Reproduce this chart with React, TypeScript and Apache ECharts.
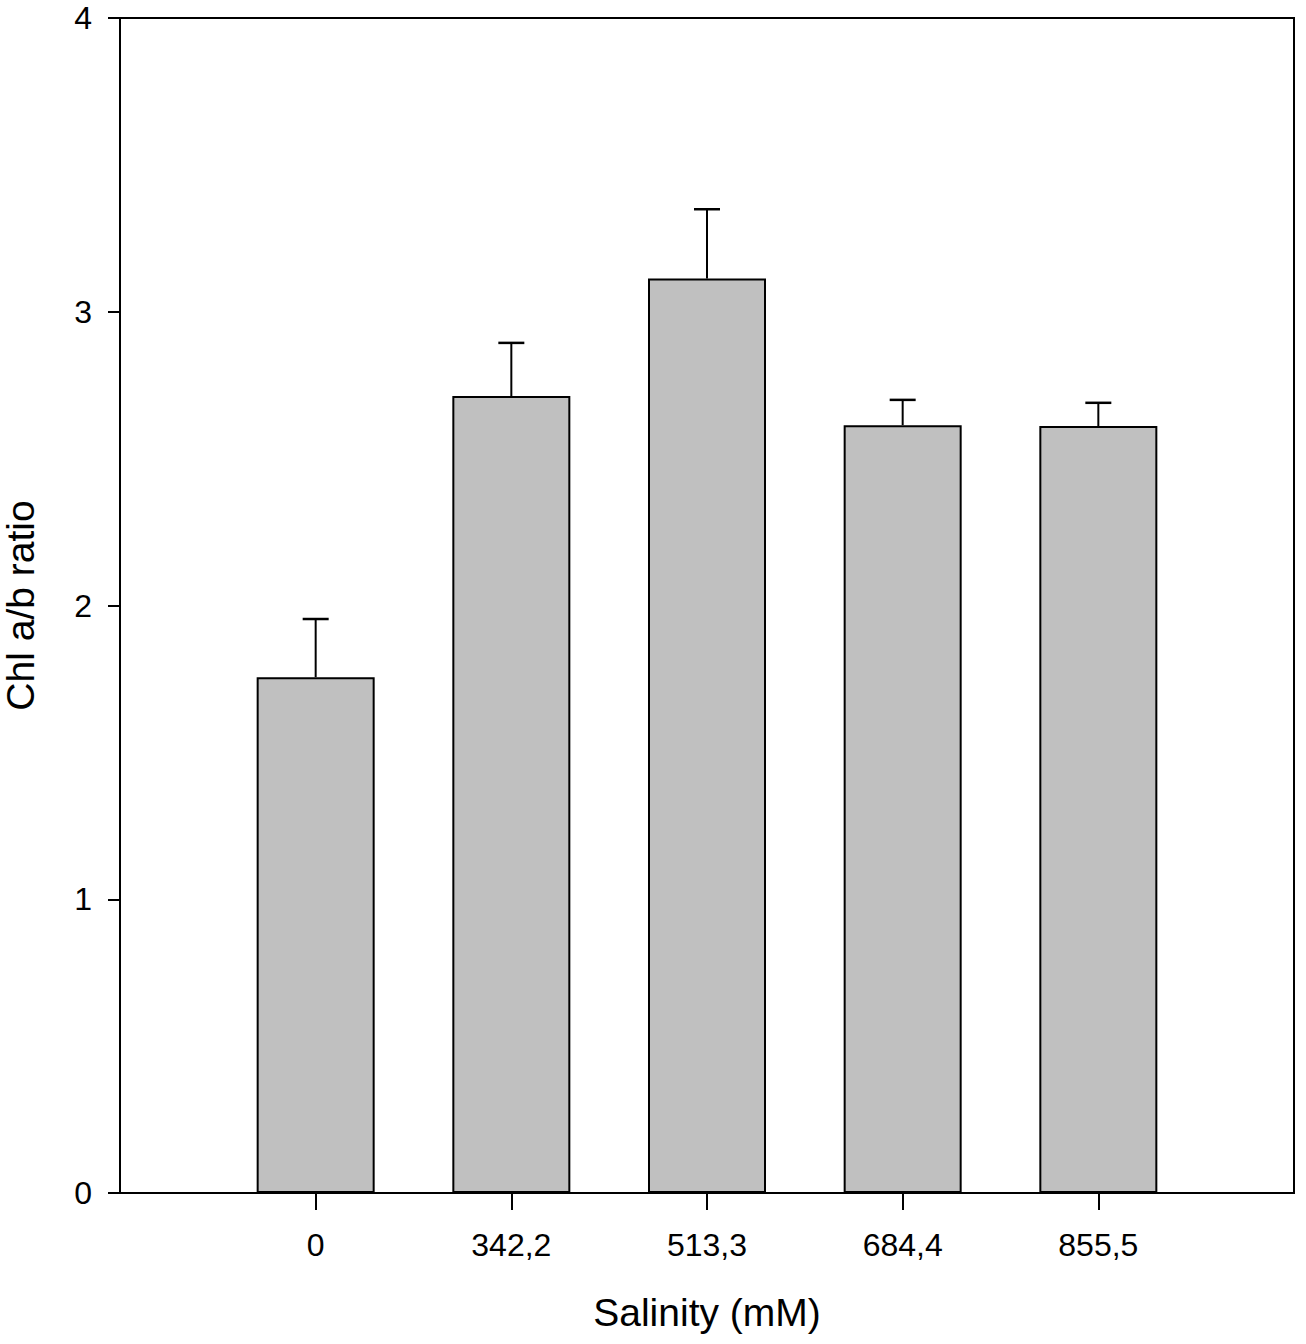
import React, { useEffect, useRef } from "react";
import * as echarts from "echarts";

const categories = ["0", "342,2", "513,3", "684,4", "855,5"];
const means = [1.756, 2.713, 3.113, 2.614, 2.611];
const errTops = [1.954, 2.894, 3.349, 2.7, 2.69];
const yTicks = [0, 1, 2, 3, 4];

const FONT = "'Liberation Sans', Arial, Helvetica, sans-serif";

export default function App() {
  const ref = useRef<HTMLDivElement>(null);
  useEffect(() => {
    document.body.style.margin = "0";
    const chart = echarts.init(ref.current!, null, { renderer: "svg" });
    const xCats = ["", ...categories, ""];
    const barData = [null, ...means, null];
    const errData = means.map((m, i) => [i + 1, m, errTops[i]]);
    chart.setOption({
      animation: false,
      backgroundColor: "#fff",
      textStyle: { fontFamily: FONT },
      grid: {
        left: 120,
        right: 12,
        top: 18,
        bottom: 151,
        show: true,
        borderColor: "#000",
        borderWidth: 2,
        backgroundColor: "transparent",
        containLabel: false,
        outerBoundsMode: "none",
      },
      xAxis: {
        type: "category",
        data: xCats,
        boundaryGap: false,
        name: "Salinity (mM)",
        nameLocation: "middle",
        nameGap: 100,
        nameTextStyle: { fontSize: 39, color: "#000", fontFamily: FONT },
        axisLine: { show: true, lineStyle: { color: "#000", width: 2 } },
        axisTick: {
          show: true,
          length: 17,
          lineStyle: { color: "#000", width: 2 },
          interval: (index: number) => index > 0 && index < xCats.length - 1,
        },
        axisLabel: {
          interval: 0,
          fontSize: 32,
          color: "#000",
          margin: 36,
          fontFamily: FONT,
        },
        splitLine: { show: false },
      },
      yAxis: {
        type: "value",
        min: yTicks[0],
        max: yTicks[yTicks.length - 1],
        interval: 1,
        name: "Chl a/b ratio",
        nameLocation: "middle",
        nameGap: 80,
        nameTextStyle: { fontSize: 39, color: "#000", fontFamily: FONT },
        axisLine: { show: true, lineStyle: { color: "#000", width: 2 } },
        axisTick: { show: true, length: 12, lineStyle: { color: "#000", width: 2 } },
        axisLabel: { fontSize: 32, color: "#000", margin: 28, fontFamily: FONT },
        splitLine: { show: false },
      },
      series: [
        {
          type: "bar",
          data: barData,
          barWidth: 118,
          itemStyle: { color: "#c0c0c0", borderColor: "#000", borderWidth: 2 },
          z: 2,
        },
        {
          type: "custom",
          data: errData,
          z: 3,
          renderItem: (params: any, api: any) => {
            const x = api.value(0);
            const base = api.coord([x, api.value(1)]);
            const top = api.coord([x, api.value(2)]);
            const half = 13;
            return {
              type: "group",
              children: [
                {
                  type: "line",
                  shape: { x1: base[0], y1: base[1], x2: top[0], y2: top[1] },
                  style: { stroke: "#000", lineWidth: 2 },
                },
                {
                  type: "line",
                  shape: { x1: top[0] - half, y1: top[1], x2: top[0] + half, y2: top[1] },
                  style: { stroke: "#000", lineWidth: 2.5 },
                },
              ],
            };
          },
        },
      ],
    });
    return () => chart.dispose();
  }, []);
  return <div ref={ref} style={{ width: 1306, height: 1344 }} />;
}
